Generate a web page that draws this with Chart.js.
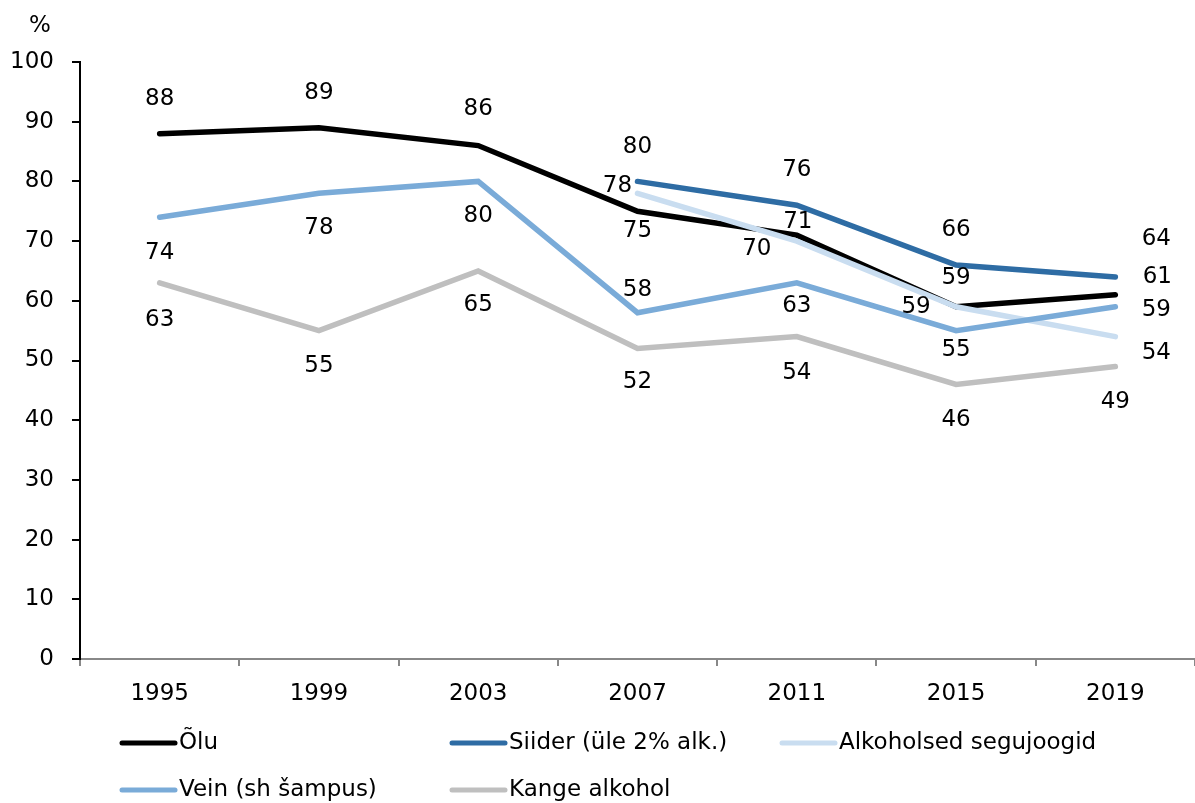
<!DOCTYPE html>
<html>
<head>
<meta charset="utf-8">
<script src="https://cdn.jsdelivr.net/npm/chart.js@4/dist/chart.umd.min.js"></script>
<style>
  html, body { margin: 0; padding: 0; background: #fff; }
  #wrap { position: relative; width: 1195px; height: 803px; }
</style>
</head>
<body>
<div id="wrap"><canvas id="c" width="1195" height="803"></canvas></div>
<script>
// ---- data ----
const years = ["1995", "1999", "2003", "2007", "2011", "2015", "2019"];
const olu = [88, 89, 86, 75, 71, 59, 61];
const siider = [null, null, null, 80, 76, 66, 64];
const segujoogid = [null, null, null, 78, 70, 59, 54];
const vein = [74, 78, 80, 58, 63, 55, 59];
const kange = [63, 55, 65, 52, 54, 46, 49];
const seriesNames = ["Õlu", "Siider (üle 2% alk.)", "Alkoholsed segujoogid", "Vein (sh šampus)", "Kange alkohol"];
const yTicks = [0, 10, 20, 30, 40, 50, 60, 70, 80, 90, 100];

// ---- styling / label placement (pixel offsets from each point) ----
const colors = ["#000000", "#2E6CA4", "#C9DDF0", "#7AABD8", "#BFBFBF"];
const labelOffsets = [
  [[0,-35],[0,-35],[0,-37],[0,20],[1,-13],[-40,0],[42,-18]],
  [null,null,null,[0,-34],[0,-35],[0,-35],[41,-38]],
  [null,null,null,[-20,-7],[-40,8],[0,-29],[41,16]],
  [[0,36],[0,35],[0,35],[0,-23],[0,23],[0,19],[41,3]],
  [[0,37],[0,35],[0,34],[0,33],[0,36],[0,36],[0,36]]
];
const FONT = "'DejaVu Sans', sans-serif";
const FS = 23;

const valueLabels = {
  id: 'valueLabels',
  afterDatasetsDraw(chart) {
    const ctx = chart.ctx;
    ctx.save();
    ctx.font = FS + "px " + FONT;
    ctx.fillStyle = "#000";
    ctx.textAlign = "center";
    ctx.textBaseline = "middle";
    chart.data.datasets.forEach((ds, di) => {
      const meta = chart.getDatasetMeta(di);
      ds.data.forEach((v, i) => {
        if (v === null) return;
        const el = meta.data[i];
        const off = labelOffsets[di][i] || [0, -30];
        ctx.fillText(String(v), el.x + off[0], el.y + off[1]);
      });
    });
    ctx.restore();
  }
};

const customLegend = {
  id: 'customLegend',
  afterDraw(chart) {
    const ctx = chart.ctx;
    const pos = [[120,743],[450,743],[780,743],[120,790],[450,790]];
    ctx.save();
    ctx.font = FS + "px " + FONT;
    ctx.textAlign = "left";
    ctx.textBaseline = "middle";
    seriesNames.forEach((n, i) => {
      const [x, y] = pos[i];
      ctx.strokeStyle = colors[i];
      ctx.lineWidth = 5;
      ctx.lineCap = "round";
      ctx.beginPath();
      ctx.moveTo(x + 2, y);
      ctx.lineTo(x + 55, y);
      ctx.stroke();
      ctx.fillStyle = "#000";
      ctx.fillText(n, x + 59, y);
    });
    // "%" unit label
    ctx.textAlign = "center";
    ctx.fillText("%", 40, 26);
    ctx.restore();
  }
};

const dataArrays = [olu, siider, segujoogid, vein, kange];
const datasets = dataArrays.map((d, i) => ({
  label: seriesNames[i],
  data: d,
  borderColor: colors[i],
  backgroundColor: colors[i],
  borderWidth: 5.5,
  borderCapStyle: 'round',
  borderJoinStyle: 'miter',
  pointRadius: 0,
  pointHoverRadius: 0,
  tension: 0,
  spanGaps: false,
  order: 5 - i
}));

new Chart(document.getElementById('c'), {
  type: 'line',
  data: { labels: years, datasets },
  options: {
    responsive: false,
    animation: false,
    devicePixelRatio: 1,
    layout: { padding: { top: 62, right: 0, left: 0, bottom: 0 } },
    plugins: { legend: { display: false }, tooltip: { enabled: false } },
    scales: {
      x: {
        offset: true,
        border: { color: '#888888', width: 2 },
        grid: { drawOnChartArea: false, drawTicks: true, tickLength: 7, color: '#888888', lineWidth: 2, offset: true },
        ticks: { color: '#000', font: { family: FONT, size: FS }, padding: 14, maxRotation: 0 },
        afterFit(s) { s.height = 144; }
      },
      y: {
        min: 0, max: 100,
        afterBuildTicks(s) { s.ticks = yTicks.map(v => ({ value: v })); },
        border: { color: '#000', width: 2 },
        grid: { drawOnChartArea: false, drawTicks: true, tickLength: 8, color: '#000', lineWidth: 2 },
        ticks: { color: '#000', font: { family: FONT, size: FS }, padding: 18 },
        afterFit(s) { s.width = 80; }
      }
    }
  },
  plugins: [valueLabels, customLegend]
});
</script>
</body>
</html>
